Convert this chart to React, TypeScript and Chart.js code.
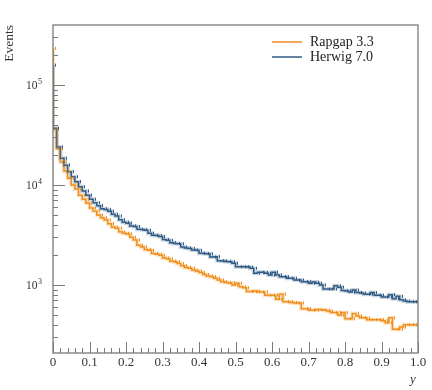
import React, { useEffect, useRef } from "react";
import { Chart, registerables } from "chart.js";
Chart.register(...registerables);

// Histogram: 100 bins of y in [0, 1]
const BIN_WIDTH = 0.01;
const X_TICK_LABELS = ["0", "0.1", "0.2", "0.3", "0.4", "0.5", "0.6", "0.7", "0.8", "0.9", "1.0"];
const Y_TICK_EXPONENTS = [3, 4, 5];

const rapgapValues = [
  233000, 36000, 23000, 17000, 13800, 11700, 10000, 9100, 7900, 7200,
  6600, 5900, 5500, 5000, 4700, 4470, 4100, 3800, 3700, 3400,
  3300, 3240, 3000, 2820, 2500, 2400, 2270, 2220, 2070, 2030,
  1980, 1860, 1830, 1730, 1710, 1640, 1560, 1500, 1470, 1410,
  1380, 1330, 1270, 1230, 1210, 1170, 1120, 1080, 1060, 1050,
  1000, 1040, 960, 940, 860, 860, 870, 850, 850, 790,
  790, 790, 720, 810, 680, 680, 670, 660, 660, 580,
  580, 560, 560, 570, 565, 560, 550, 530, 530, 500,
  530, 460, 460, 520, 490, 470, 470, 450, 450, 450,
  450, 440, 420, 470, 360, 360, 380, 400, 400, 400,
];

const herwigValues = [
  158000, 37000, 24000, 18500, 15800, 13600, 12100, 10800, 9600, 8700,
  7900, 7200, 6650, 6200, 5800, 5700, 5450, 5100, 4900, 4500,
  4250, 4150, 3900, 3850, 3600, 3580, 3520, 3300, 3150, 3120,
  3050, 2850, 2800, 2650, 2600, 2580, 2400, 2350, 2320, 2240,
  2220, 2080, 2060, 2050, 1900, 1920, 1750, 1740, 1720, 1710,
  1650, 1520, 1520, 1520, 1510, 1470, 1310, 1340, 1340, 1310,
  1260, 1340, 1260, 1210, 1210, 1170, 1170, 1120, 1120, 1080,
  1080, 1040, 1070, 1040, 1000, 910, 910, 910, 980, 950,
  880, 870, 850, 890, 840, 830, 810, 810, 840, 790,
  790, 760, 760, 800, 730, 770, 710, 690, 680, 680,
];

const SERIES = [
  { label: "Rapgap 3.3", values: rapgapValues, color: "#ef8e1c", halo: "rgba(239,142,28,0.25)" },
  { label: "Herwig 7.0", values: herwigValues, color: "#2f5b84", halo: "rgba(47,91,132,0.25)" },
];

const toSteps = (vals: number[]) => {
  const pts = vals.map((v, i) => ({ x: i * BIN_WIDTH, y: v }));
  pts.push({ x: vals.length * BIN_WIDTH, y: vals[vals.length - 1] });
  return pts;
};

const SERIF = "'Liberation Serif', 'DejaVu Serif', serif";

const decorPlugin = {
  id: "decor",
  afterDraw(chart: any) {
    const ctx = chart.ctx as CanvasRenderingContext2D;
    const { left, right, top, bottom } = chart.chartArea;
    const xs = chart.scales.x;
    const ys = chart.scales.y;
    ctx.save();

    // small error-bar marks at bin centres
    SERIES.forEach((s) => {
      ctx.strokeStyle = s.color;
      ctx.lineWidth = 1;
      s.values.forEach((v, i) => {
        const px = Math.round(xs.getPixelForValue((i + 0.5) * BIN_WIDTH)) + 0.5;
        const py = ys.getPixelForValue(v);
        ctx.beginPath();
        ctx.moveTo(px, py - 1.5);
        ctx.lineTo(px, py + 1.5);
        ctx.stroke();
      });
    });

    // frame
    ctx.strokeStyle = "#7a7a7a";
    ctx.lineWidth = 1.3;
    ctx.strokeRect(left, top, right - left, bottom - top);

    // x ticks
    ctx.lineWidth = 1;
    for (let k = 0; k <= 50; k++) {
      const px = Math.round(xs.getPixelForValue(k * 0.02)) + 0.5;
      const len = k % 5 === 0 ? 11 : 5;
      ctx.beginPath();
      ctx.moveTo(px, bottom);
      ctx.lineTo(px, bottom - len);
      ctx.stroke();
    }
    // y ticks
    for (let n = 2; n <= 5; n++) {
      for (let m = 1; m <= 9; m++) {
        const v = m * Math.pow(10, n);
        if (v < ys.min || v > ys.max) continue;
        const py = Math.round(ys.getPixelForValue(v)) + 0.5;
        const len = m === 1 ? 12 : 5;
        ctx.beginPath();
        ctx.moveTo(left, py);
        ctx.lineTo(left + len, py);
        ctx.stroke();
      }
    }

    // x tick labels
    ctx.fillStyle = "#333";
    ctx.font = `13px ${SERIF}`;
    ctx.textAlign = "center";
    ctx.textBaseline = "middle";
    X_TICK_LABELS.forEach((t, k) => {
      const px = xs.getPixelForValue(k / 10);
      ctx.fillText(t, px, bottom + 10);
    });

    // y tick labels: 10^n
    Y_TICK_EXPONENTS.forEach((n) => {
      const py = ys.getPixelForValue(Math.pow(10, n));
      ctx.font = `8px ${SERIF}`;
      const sup = String(n);
      const supW = ctx.measureText(sup).width;
      ctx.textAlign = "left";
      ctx.textBaseline = "alphabetic";
      const endX = 42;
      ctx.fillText(sup, endX - supW, py - 1);
      ctx.font = `11.5px ${SERIF}`;
      ctx.textAlign = "right";
      ctx.fillText("10", endX - supW - 0.5, py + 4);
    });

    // axis titles
    ctx.font = `13.5px ${SERIF}`;
    ctx.save();
    ctx.translate(9, top);
    ctx.rotate(-Math.PI / 2);
    ctx.textAlign = "right";
    ctx.textBaseline = "middle";
    ctx.fillText("Events", 0, 0);
    ctx.restore();

    ctx.font = `italic 13px ${SERIF}`;
    ctx.textAlign = "center";
    ctx.textBaseline = "middle";
    ctx.fillText("y", 413, 380);

    // legend
    const legendY = [42, 57];
    SERIES.forEach((s, i) => {
      ctx.strokeStyle = s.color;
      ctx.lineWidth = 1.5;
      ctx.beginPath();
      ctx.moveTo(272, legendY[i]);
      ctx.lineTo(302, legendY[i]);
      ctx.stroke();
      ctx.fillStyle = "#222";
      ctx.font = `14px ${SERIF}`;
      ctx.textAlign = "left";
      ctx.textBaseline = "middle";
      ctx.fillText(s.label, 310, legendY[i]);
    });

    ctx.restore();
  },
};

export default function App() {
  const canvasRef = useRef<HTMLCanvasElement | null>(null);

  useEffect(() => {
    if (!canvasRef.current) return;
    const datasets: any[] = [];
    SERIES.forEach((s) => {
      datasets.push({
        label: s.label + " band",
        data: toSteps(s.values),
        borderColor: s.halo,
        borderWidth: 4,
        stepped: "after",
        pointRadius: 0,
        fill: false,
      });
    });
    SERIES.slice()
      .reverse()
      .forEach((s) => {
        datasets.push({
          label: s.label,
          data: toSteps(s.values),
          borderColor: s.color,
          borderWidth: 1.5,
          stepped: "after",
          pointRadius: 0,
          fill: false,
        });
      });

    const chart = new Chart(canvasRef.current, {
      type: "line",
      data: { datasets },
      options: {
        animation: false,
        responsive: true,
        maintainAspectRatio: false,
        layout: { padding: { left: 53, top: 25, right: 14, bottom: 37 } },
        plugins: { legend: { display: false }, tooltip: { enabled: false } },
        scales: {
          x: {
            type: "linear",
            min: 0,
            max: 1,
            ticks: { display: false },
            grid: { display: false, drawTicks: false },
            border: { display: false },
          },
          y: {
            type: "logarithmic",
            min: 208.9,
            max: 398107,
            ticks: { display: false },
            grid: { display: false, drawTicks: false },
            border: { display: false },
          },
        },
      },
      plugins: [decorPlugin],
    });
    return () => chart.destroy();
  }, []);

  return (
    <div style={{ position: "fixed", left: 0, top: 0, width: 432, height: 390, background: "#fff" }}>
      <canvas ref={canvasRef} />
    </div>
  );
}
